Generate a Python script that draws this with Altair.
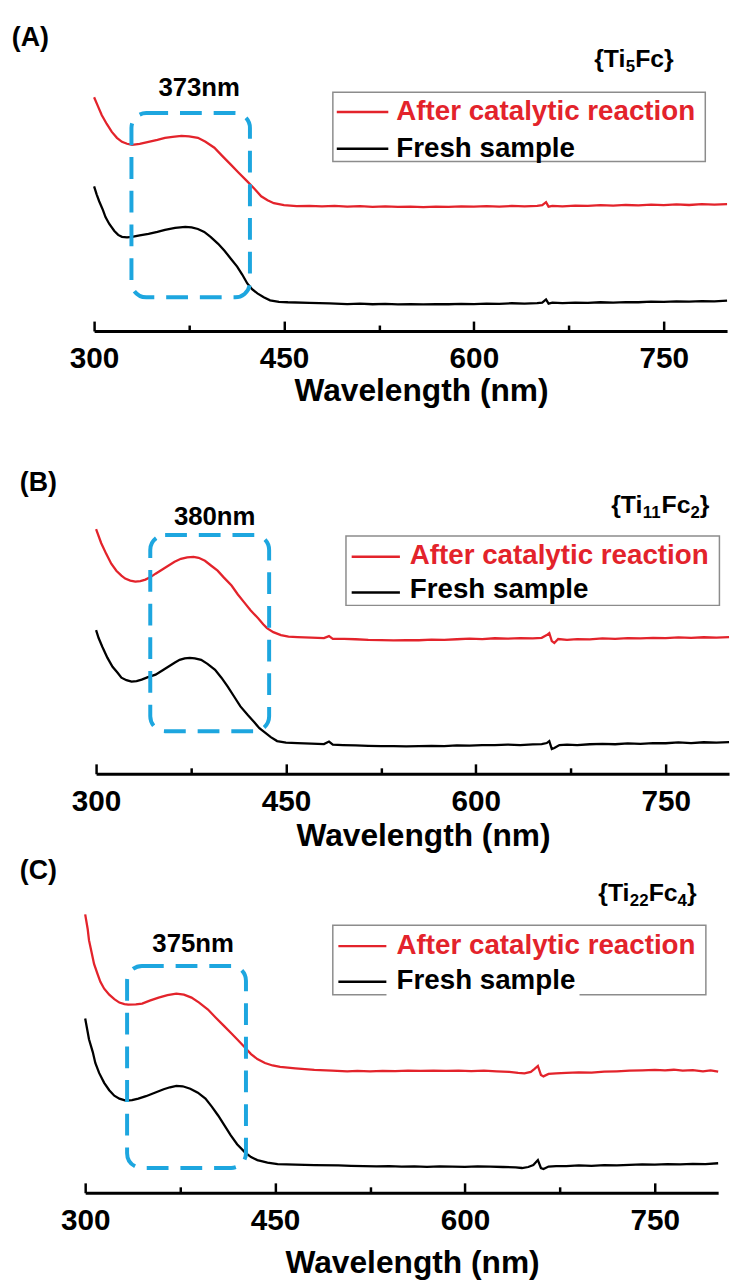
import altair as alt
import pandas as pd

FONT = "Liberation Sans"
RED = "#e3232b"
BLACK = "#000000"
BLUE = "#1da6df"
SERIES = ["After catalytic reaction", "Fresh sample"]
X_MAJOR = [300, 450, 600, 750]
X_MINOR = [375, 525, 675]

# ---------------- Panel A : {Ti5Fc} ----------------
A_RED_WL = [300, 303, 306, 310, 314, 318, 322, 326, 330, 336, 343, 350, 356, 362, 369, 375, 382, 388, 395, 401,
            408, 414, 421, 427, 432, 437, 442, 450, 460, 470, 480, 490, 500, 510, 520, 530, 540, 550, 560, 570,
            580, 590, 600, 610, 620, 630, 640, 650, 654, 657, 659, 662, 670, 680, 690, 700, 710, 720, 730, 740,
            750, 760, 770, 780, 790, 800]
A_RED_ABS = [2.36, 2.27, 2.18, 2.09, 2.01, 1.95, 1.91, 1.89, 1.88, 1.89, 1.91, 1.93, 1.95, 1.96, 1.97, 1.965, 1.95,
             1.91, 1.85, 1.77, 1.68, 1.60, 1.51, 1.43, 1.36, 1.32, 1.29, 1.27, 1.26, 1.262, 1.258, 1.262, 1.256,
             1.26, 1.254, 1.258, 1.252, 1.256, 1.25, 1.255, 1.252, 1.258, 1.255, 1.26, 1.256, 1.262, 1.258, 1.262,
             1.27, 1.30, 1.255, 1.262, 1.258, 1.266, 1.262, 1.27, 1.266, 1.272, 1.268, 1.276, 1.27, 1.278, 1.272,
             1.28, 1.276, 1.28]
A_BLK_WL = [300, 302, 304, 307, 309, 312, 316, 319, 322, 326, 330, 336, 343, 350, 356, 364, 372, 377, 382, 387,
            392, 398, 403, 408, 413, 417, 421, 425, 429, 434, 439, 446, 453, 470, 486, 500, 510, 520, 530, 540,
            550, 560, 570, 580, 590, 600, 610, 620, 630, 640, 650, 654, 657, 659, 662, 670, 680, 690, 700, 710,
            720, 730, 740, 750, 760, 770, 780, 790, 800]
A_BLK_ABS = [1.46, 1.38, 1.31, 1.22, 1.15, 1.08, 1.01, 0.97, 0.95, 0.945, 0.95, 0.965, 0.98, 1.00, 1.02, 1.04, 1.05,
             1.045, 1.03, 1.00, 0.95, 0.88, 0.81, 0.73, 0.65, 0.57, 0.48, 0.42, 0.38, 0.34, 0.31, 0.295, 0.29,
             0.283, 0.278, 0.272, 0.276, 0.27, 0.274, 0.268, 0.272, 0.268, 0.272, 0.27, 0.274, 0.272, 0.276, 0.274,
             0.28, 0.276, 0.282, 0.286, 0.318, 0.276, 0.286, 0.282, 0.286, 0.284, 0.29, 0.286, 0.292, 0.29, 0.296,
             0.294, 0.3, 0.296, 0.302, 0.3, 0.306]

# ---------------- Panel B : {Ti11Fc2} ----------------
B_RED_WL = [300, 304, 308, 312, 316, 320, 323, 327, 331, 335, 339, 343, 347, 352, 357, 362, 367, 372, 377, 381,
            386, 391, 396, 401, 407, 412, 417, 422, 428, 432, 435, 440, 446, 452, 459, 470, 480, 484, 487, 496,
            505, 515, 525, 535, 545, 555, 565, 575, 585, 595, 605, 615, 625, 635, 645, 652, 656, 658, 660, 662,
            665, 672, 680, 690, 700, 710, 720, 730, 740, 750, 760, 770, 780, 790, 800]
B_RED_ABS = [2.47, 2.33, 2.22, 2.12, 2.05, 2.00, 1.97, 1.95, 1.94, 1.945, 1.96, 1.985, 2.02, 2.06, 2.10, 2.14, 2.17,
             2.185, 2.19, 2.18, 2.15, 2.10, 2.05, 1.98, 1.90, 1.81, 1.73, 1.65, 1.57, 1.51, 1.47, 1.43, 1.40,
             1.385, 1.38, 1.375, 1.37, 1.39, 1.362, 1.362, 1.358, 1.352, 1.35, 1.346, 1.35, 1.348, 1.354, 1.352,
             1.358, 1.364, 1.36, 1.368, 1.364, 1.37, 1.366, 1.372, 1.40, 1.42, 1.34, 1.32, 1.36, 1.352, 1.36,
             1.356, 1.366, 1.362, 1.37, 1.366, 1.372, 1.37, 1.376, 1.372, 1.378, 1.374, 1.38]
B_BLK_WL = [300, 302, 305, 309, 313, 317, 320, 324, 328, 332, 336, 341, 347, 352, 357, 362, 366, 370, 374, 378,
            383, 388, 394, 399, 404, 409, 414, 420, 425, 429, 433, 438, 443, 450, 459, 470, 480, 484, 487, 495,
            505, 515, 525, 535, 545, 555, 565, 575, 585, 595, 605, 615, 625, 635, 645, 652, 656, 658, 660, 662,
            666, 672, 680, 690, 700, 710, 720, 730, 740, 750, 760, 770, 780, 790, 800]
B_BLK_ABS = [1.45, 1.37, 1.28, 1.17, 1.08, 1.02, 0.97, 0.945, 0.93, 0.935, 0.95, 0.975, 1.00, 1.04, 1.08, 1.12, 1.15,
             1.165, 1.17, 1.165, 1.15, 1.11, 1.05, 0.97, 0.88, 0.78, 0.68, 0.59, 0.52, 0.46, 0.42, 0.37, 0.33,
             0.315, 0.31, 0.305, 0.30, 0.325, 0.295, 0.29, 0.286, 0.282, 0.278, 0.28, 0.276, 0.278, 0.282, 0.28,
             0.286, 0.284, 0.29, 0.288, 0.294, 0.29, 0.296, 0.3, 0.31, 0.33, 0.25, 0.26, 0.29, 0.294, 0.29, 0.298,
             0.302, 0.298, 0.306, 0.302, 0.31, 0.308, 0.316, 0.31, 0.318, 0.314, 0.32]

# ---------------- Panel C : {Ti22Fc4} ----------------
C_RED_WL = [300, 302, 303, 305, 307, 310, 312, 315, 319, 323, 327, 331, 334, 340, 345, 351, 358, 365, 372, 378,
            384, 390, 397, 403, 410, 415, 420, 426, 431, 436, 442, 448, 454, 466, 481, 495, 507, 515, 525, 535,
            545, 555, 565, 575, 585, 595, 605, 615, 625, 635, 642, 647, 652, 655, 657.6, 660, 662, 666, 672, 680,
            690, 700, 710, 720, 730, 740, 750, 758, 765, 772, 780, 788, 794, 800]
C_RED_ABS = [2.81, 2.66, 2.55, 2.43, 2.31, 2.20, 2.13, 2.06, 2.00, 1.955, 1.92, 1.905, 1.90, 1.903, 1.91, 1.94, 1.97,
             1.995, 2.01, 2.00, 1.97, 1.92, 1.85, 1.77, 1.68, 1.615, 1.55, 1.47, 1.40, 1.35, 1.31, 1.285, 1.27,
             1.255, 1.24, 1.232, 1.225, 1.23, 1.226, 1.23, 1.228, 1.232, 1.23, 1.234, 1.23, 1.232, 1.228, 1.232,
             1.226, 1.22, 1.21, 1.205, 1.22, 1.25, 1.28, 1.19, 1.175, 1.20, 1.206, 1.21, 1.216, 1.212, 1.222,
             1.226, 1.232, 1.236, 1.24, 1.236, 1.242, 1.232, 1.238, 1.226, 1.236, 1.222]
C_BLK_WL = [300, 302, 303, 306, 308, 311, 315, 319, 323, 327, 332, 337, 342, 348, 355, 362, 367, 372, 377, 383,
            389, 395, 400, 405, 410, 415, 420, 426, 431, 436, 444, 452, 466, 481, 500, 510, 520, 530, 540, 550,
            560, 570, 580, 590, 600, 610, 620, 630, 640, 645, 650, 654, 657.6, 660, 662, 666, 672, 680, 690, 700,
            710, 720, 730, 740, 750, 760, 770, 780, 790, 800]
C_BLK_ABS = [1.76, 1.62, 1.55, 1.42, 1.31, 1.21, 1.11, 1.035, 0.98, 0.95, 0.93, 0.935, 0.95, 0.975, 1.01, 1.045,
             1.065, 1.08, 1.075, 1.05, 1.01, 0.95, 0.87, 0.78, 0.68, 0.58, 0.49, 0.41, 0.36, 0.33, 0.305, 0.29,
             0.285, 0.28, 0.276, 0.272, 0.27, 0.266, 0.268, 0.264, 0.266, 0.262, 0.266, 0.264, 0.262, 0.266,
             0.264, 0.26, 0.256, 0.25, 0.26, 0.28, 0.33, 0.25, 0.24, 0.265, 0.27, 0.268, 0.276, 0.272, 0.28,
             0.276, 0.282, 0.286, 0.284, 0.29, 0.286, 0.292, 0.29, 0.298]

# formula labels as (text, is_subscript) pieces
A_FORMULA = [("{Ti", False), ("5", True), ("Fc}", False)]
B_FORMULA = [("{Ti", False), ("11", True), ("Fc", False), ("2", True), ("}", False)]
C_FORMULA = [("{Ti", False), ("22", True), ("Fc", False), ("4", True), ("}", False)]

# layout + annotation placement (annotations in data coordinates: wavelength, absorbance)
PANELS = [
    dict(name="A", red=(A_RED_WL, A_RED_ABS), blk=(A_BLK_WL, A_BLK_ABS), height=408, axis_y=328, lead=95,
         title_y=70, tag=("(A)", 235.0, 2.875), peak=("373nm", 383.0, 2.37), formula=(A_FORMULA, 695.0, 2.66),
         box=(329.5, 423.1, 0.34, 2.20), leg_box=(488.6, 782.8, 1.71, 2.41), leg_line=(491.7, 532.4, 2.21, 1.84),
         leg_text=(538.7, 2.13, 1.76), mask=None),
    dict(name="B", red=(B_RED_WL, B_RED_ABS), blk=(B_BLK_WL, B_BLK_ABS), height=447, axis_y=367, lead=97,
         title_y=72, tag=("(B)", 239.75, 2.85), peak=("380nm", 393.7, 2.51), formula=(B_FORMULA, 706.9, 2.63),
         box=(342.8, 436.7, 0.43, 2.41), leg_box=(497.4, 792.4, 1.70, 2.40), leg_line=(501.9, 540.0, 2.19, 1.83),
         leg_text=(547.8, 2.12, 1.77), mask=None),
    dict(name="C", red=(C_RED_WL, C_RED_ABS), blk=(C_BLK_WL, C_BLK_ABS), height=433, axis_y=343, lead=86,
         title_y=80, tag=("(C)", 248.4, 3.17), peak=("375nm", 385.3, 2.43), formula=(C_FORMULA, 705.3, 2.95),
         box=(333.1, 427.0, 0.25, 2.29), leg_box=(495.6, 790.3, 2.00, 2.70), leg_line=(500.0, 537.9, 2.49, 2.13),
         leg_text=(546.0, 2.41, 2.06), mask=(538.0, 690.5, 1.975, 2.025)),
]

PLOT_W = 639
PX_PER_UNIT = 100.0
FORMULA_SIZE = 25
SUB_SIZE = 17
# Arial/Liberation Sans Bold advance widths (em) for the glyphs used in the formula labels
BOLD_W = {"{": 0.389, "}": 0.389, "T": 0.611, "i": 0.278, "F": 0.611, "c": 0.556}


def piece_width(t, size):
    return sum(BOLD_W.get(ch, 0.556) for ch in t) * size


def text_layer(txt, x, y, xs, ys, size, color, align, dx=0, dy=0):
    d = pd.DataFrame({"x": [x], "y": [y], "t": [txt]})
    return alt.Chart(d).mark_text(align=align, baseline="alphabetic", font=FONT, fontWeight="bold",
                                  fontSize=size, color=color, dx=dx, dy=dy).encode(
        x=alt.X("x:Q", scale=xs, axis=None), y=alt.Y("y:Q", scale=ys, axis=None), text="t:N")


def formula_layers(pieces, x, y, xs, ys):
    out = []
    offset = 0.0
    for t, sub in pieces:
        size = SUB_SIZE if sub else FORMULA_SIZE
        out.append(text_layer(t, x, y, xs, ys, size, BLACK, "left", dx=round(offset, 1), dy=5 if sub else 0))
        offset += piece_width(t, size)
    return out


def rect_layer(box, xs, ys, **style):
    x1, x2, y1, y2 = box
    return alt.Chart(pd.DataFrame({"x1": [x1], "x2": [x2], "y1": [y1], "y2": [y2]})).mark_rect(**style).encode(
        x=alt.X("x1:Q", scale=xs, axis=None), x2="x2:Q",
        y=alt.Y("y1:Q", scale=ys, axis=None), y2="y2:Q")


def make_panel(p):
    h = p["height"]
    ay = p["axis_y"]
    below = h - ay
    rw, ra = p["red"]
    bw, ba = p["blk"]
    df = pd.DataFrame({
        "wl": list(rw) + list(bw),
        "abs": list(ra) + list(ba),
        "series": [SERIES[0]] * len(rw) + [SERIES[1]] * len(bw),
    })
    xs = alt.Scale(domain=[300, 800], nice=False, zero=False)
    ys = alt.Scale(domain=[-below / PX_PER_UNIT, ay / PX_PER_UNIT], nice=False, zero=False)

    bottom_axis = alt.Axis(
        orient="bottom", offset=-below, values=X_MAJOR, format="d", grid=False,
        labelFont=FONT, labelFontSize=30, labelFontWeight="bold", labelColor="black",
        labelBaseline="alphabetic", labelPadding=37, labelFlush=False, labelOverlap=False,
        ticks=False, tickSize=0, domain=True, domainColor="black", domainWidth=3,
        title="Wavelength (nm)", titleFont=FONT, titleFontSize=32, titleFontWeight="bold",
        titleColor="black", titleX=330, titleY=p["title_y"], titleBaseline="alphabetic", titleAlign="center")

    lines = alt.Chart(df).mark_line(strokeWidth=2.3).encode(
        x=alt.X("wl:Q", scale=xs, axis=bottom_axis),
        y=alt.Y("abs:Q", scale=ys, axis=None),
        color=alt.Color("series:N", scale=alt.Scale(domain=SERIES, range=[RED, BLACK]), legend=None),
    )

    major = alt.Chart(pd.DataFrame({"wl": X_MAJOR, "y": [0] * len(X_MAJOR)})).mark_point(opacity=0).encode(
        x=alt.X("wl:Q", scale=xs, axis=alt.Axis(
            orient="top", offset=-ay, values=X_MAJOR, labels=False, ticks=True, tickSize=10,
            tickWidth=2.5, tickColor="black", domain=False, grid=False, title=None)),
        y=alt.Y("y:Q", scale=ys, axis=None))
    minor = alt.Chart(pd.DataFrame({"wl": X_MINOR, "y": [0] * len(X_MINOR)})).mark_point(opacity=0).encode(
        x=alt.X("wl:Q", scale=xs, axis=alt.Axis(
            orient="top", offset=-ay, values=X_MINOR, labels=False, ticks=True, tickSize=6,
            tickWidth=2.5, tickColor="black", domain=False, grid=False, title=None)),
        y=alt.Y("y:Q", scale=ys, axis=None))

    box = rect_layer(p["box"], xs, ys, fill="transparent", stroke=BLUE, strokeWidth=4,
                     strokeDash=[22, 12], cornerRadius=15)
    leg_box = rect_layer(p["leg_box"], xs, ys, fill="white", stroke="#8c8c8c", strokeWidth=1.5)

    sx1, sx2, sy_red, sy_blk = p["leg_line"]
    leg_lines = alt.Chart(pd.DataFrame({
        "x1": [sx1, sx1], "x2": [sx2, sx2], "y": [sy_red, sy_blk], "series": SERIES})).mark_rule(
        strokeWidth=2.5).encode(
        x=alt.X("x1:Q", scale=xs, axis=None), x2="x2:Q",
        y=alt.Y("y:Q", scale=ys, axis=None),
        color=alt.Color("series:N", scale=alt.Scale(domain=SERIES, range=[RED, BLACK]), legend=None))

    tx, ty_red, ty_blk = p["leg_text"]
    layers = [lines, box, leg_box, leg_lines]
    if p["mask"] is not None:
        layers.append(rect_layer(p["mask"], xs, ys, fill="white", stroke="white", strokeWidth=0))
    layers += [
        text_layer(SERIES[0], tx, ty_red, xs, ys, 28, RED, "left"),
        text_layer(SERIES[1], tx, ty_blk, xs, ys, 28, BLACK, "left"),
        text_layer(p["tag"][0], p["tag"][1], p["tag"][2], xs, ys, 27, BLACK, "left"),
        text_layer(p["peak"][0], p["peak"][1], p["peak"][2], xs, ys, 26, BLACK, "center"),
    ]
    layers += formula_layers(p["formula"][0], p["formula"][1], p["formula"][2], xs, ys)
    layers += [major, minor]

    panel = alt.layer(*layers).resolve_axis(x="independent").properties(
        width=PLOT_W, height=h, name="panel" + p["name"])

    spacer = alt.Chart(pd.DataFrame({"v": [0]})).mark_rect(opacity=0).encode(
        x=alt.value(0), x2=alt.value(p["lead"]), y=alt.value(0), y2=alt.value(h)
    ).properties(width=p["lead"], height=h, name="spacer" + p["name"])

    return alt.hconcat(spacer, panel, spacing=0, bounds="flush")


rows = [make_panel(p) for p in PANELS]
chart = alt.vconcat(*rows, spacing=0).configure_view(stroke=None).properties(
    padding=0, background="white")

chart.save("out.html", embed_options={"renderer": "svg", "actions": False})
